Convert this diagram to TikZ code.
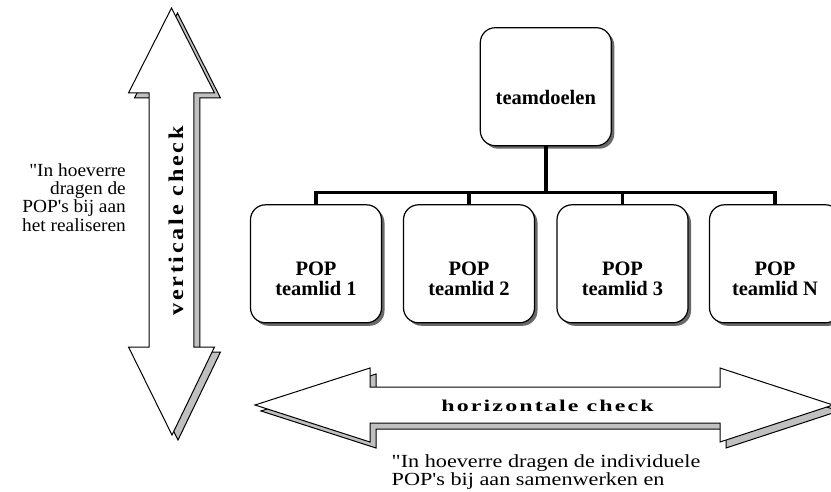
\documentclass[tikz,border=0pt]{standalone}
\usepackage{fontspec}
\setmainfont{Liberation Serif}
\newfontfamily\sideserif[FakeStretch=1.045]{Liberation Serif}
\newfontfamily\lowserif[FakeStretch=1.2]{Liberation Serif}
\newfontfamily\hcheckserif[FakeStretch=1.45,LetterSpace=13]{Liberation Serif}
\newfontfamily\vcheckserif[FakeStretch=1.15,LetterSpace=13]{Liberation Serif}
\usetikzlibrary{shadows}
\definecolor{arrowshade}{RGB}{192,192,192}
\definecolor{boxshade}{RGB}{105,105,105}

% outlines of the two double arrows (units: 1pt, y pointing down)
\newcommand\verticalarrowpath{(171.5,8) -- (214.5,93) -- (193.8,93) -- (193.8,347)
  -- (214.5,347) -- (172,435) -- (128.5,347) -- (149.2,347) -- (149.2,93)
  -- (128.5,93) -- cycle}
\newcommand\horizontalarrowpath{(255,405) -- (370,368) -- (370,387) -- (720,387)
  -- (720,368) -- (833,405) -- (720,442) -- (720,423) -- (370,423)
  -- (370,442) -- cycle}
\newcommand\sidefont{\fontsize{18.5}{18.2}\sideserif}
\newcommand\lowfont{\fontsize{18.5}{18.2}\lowserif}

\begin{document}
\begin{tikzpicture}[x=1pt,y=-1pt,
  popbox/.style={draw=black, line width=1.2pt, fill=white,
    rounded corners=15pt, minimum width=131pt, minimum height=118pt,
    inner sep=0pt,
    drop shadow={shadow xshift=3pt, shadow yshift=-3pt, fill=boxshade, opacity=1}},
  boxtext/.style={inner sep=0pt, align=center,
    font={\fontsize{20.5}{20}\selectfont\bfseries}},
  arrowbody/.style={draw=black, line width=1pt, fill=white, line join=miter},
  arrowshadow/.style={draw=black, line width=1pt, fill=arrowshade, line join=miter},
  hlabel/.style={inner sep=0pt, font={\fontsize{16.5}{16}\hcheckserif\bfseries}},
  vlabel/.style={inner sep=0pt, font={\fontsize{21}{20}\vcheckserif\bfseries}},
  tree/.style={line width=3.6pt, line join=miter}]

\useasboundingbox (0,0) rectangle (831,492);
\clip (0,0) rectangle (831,492);
\fill[white] (0,0) rectangle (831,492);

% vertical double arrow with its shadow
\draw[arrowshadow, shift={(6,5)}] \verticalarrowpath;
\draw[arrowbody] \verticalarrowpath;
\node[vlabel, rotate=90, anchor=base] (vcheck) at (183,221) {verticale check};

% horizontal double arrow with its shadow
\draw[arrowshadow, shift={(6,6)}] \horizontalarrowpath;
\draw[arrowbody] \horizontalarrowpath;
\node[hlabel, anchor=base] (hcheck) at (547.5,411) {horizontale check};

% questions beside the arrows
\node[inner sep=0pt, font=\sidefont, align=right, anchor=north east] (vquestion)
  at (126,163.5) {"In hoeverre\\dragen de\\POP's bij aan\\het realiseren};
\node[inner sep=0pt, font=\lowfont, align=left, anchor=north west] (hquestion)
  at (391.5,454.5) {"In hoeverre dragen de individuele\\POP's bij aan samenwerken en};

% organisation chart
\node[popbox] (goal) at (545.8,86.7) {};
\node[popbox] (pop1) at (316,263.8) {};
\node[popbox] (pop2) at (469,263.8) {};
\node[popbox] (pop3) at (622.5,263.8) {};
\node[popbox] (popN) at (775,263.8) {};

\node[boxtext, anchor=base] (goaltext) at ([yshift=-18.3pt]goal.center) {teamdoelen};
\node[boxtext] (pop1text) at ([yshift=-14.7pt]pop1.center) {POP\\teamlid 1};
\node[boxtext] (pop2text) at ([yshift=-14.7pt]pop2.center) {POP\\teamlid 2};
\node[boxtext] (pop3text) at ([yshift=-14.7pt]pop3.center) {POP\\teamlid 3};
\node[boxtext] (popNtext) at ([yshift=-14.7pt]popN.center) {POP\\teamlid N};

\coordinate (bus) at (0,192.5);
\draw[tree] (goal.south) -- (goal.south |- bus);
\draw[tree] (pop1.north) -- (pop1.north |- bus) -- (popN.north |- bus) -- (popN.north);
\draw[tree] (pop2.north) -- (pop2.north |- bus);
\draw[tree] (pop3.north) -- (pop3.north |- bus);
\end{tikzpicture}
\end{document}
